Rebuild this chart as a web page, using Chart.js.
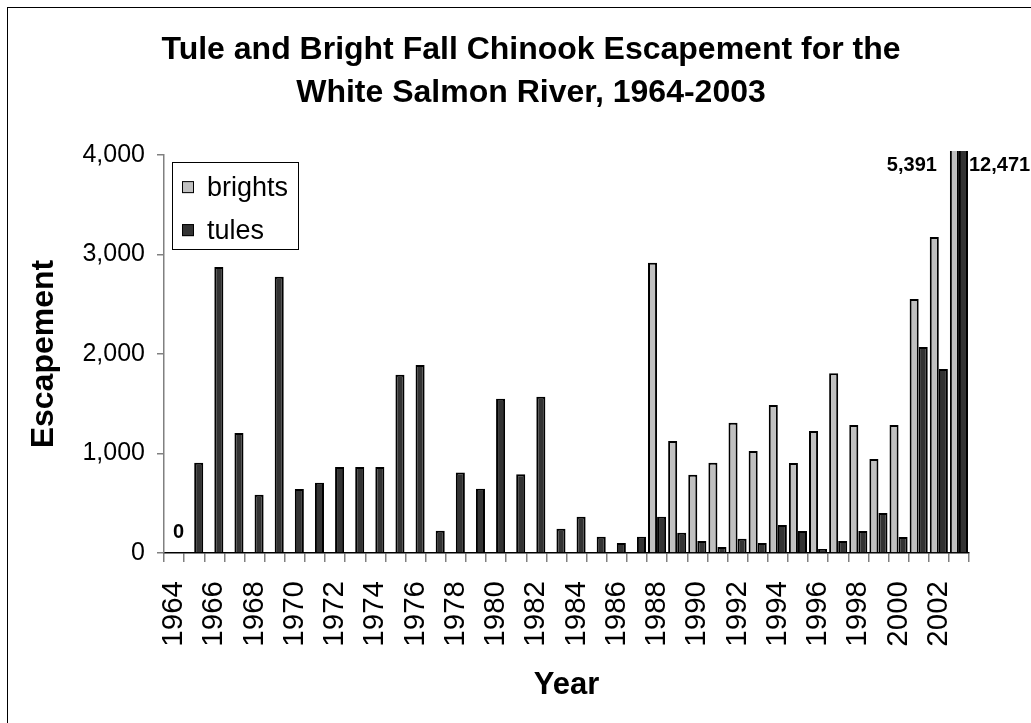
<!DOCTYPE html>
<html>
<head>
<meta charset="utf-8">
<title>White Salmon River fall chinook escapement</title>
<script src="https://cdn.jsdelivr.net/npm/chart.js@4.4.0/dist/chart.umd.min.js"></script>
<style>
  html, body { margin: 0; padding: 0; background: #fff; overflow: hidden; }
  #wrap { width: 1031px; height: 723px; }
</style>
</head>
<body>
<div id="wrap"><canvas id="escapement" width="1031" height="723"></canvas></div>
<script>
'use strict';

var years = [
  1964, 1965, 1966, 1967, 1968, 1969, 1970, 1971, 1972, 1973,
  1974, 1975, 1976, 1977, 1978, 1979, 1980, 1981, 1982, 1983,
  1984, 1985, 1986, 1987, 1988, 1989, 1990, 1991, 1992, 1993,
  1994, 1995, 1996, 1997, 1998, 1999, 2000, 2001, 2002, 2003
];

// no brights counted before 1988
var brights = [
  null, null, null, null, null, null, null, null, null, null,
  null, null, null, null, null, null, null, null, null, null,
  null, null, null, null, 2917, 1126, 787, 907, 1309, 1025,
  1487, 904, 1226, 1806, 1286, 945, 1286, 2553, 3176, 5391
];

var tules = [
  0, 907, 2874, 1206, 586, 2777, 643, 707, 864, 864,
  864, 1792, 1889, 224, 810, 646, 1551, 791, 1571, 244,
  365, 164, 100, 164, 365, 204, 120, 60, 144, 100,
  281, 221, 40, 120, 221, 402, 161, 2070, 1849, 12471
];

var yTicks = [0, 1000, 2000, 3000, 4000];

var FONT = "'Liberation Sans', Arial, Helvetica, sans-serif";

function fmt(v) {
  return Number(v).toLocaleString('en-US');
}

// thin frame round the whole chart, only left and top edges are in view
var framePlugin = {
  id: 'frame',
  beforeDraw: function(chart) {
    var ctx = chart.ctx;
    ctx.save();
    ctx.fillStyle = '#fff';
    ctx.fillRect(0, 0, chart.width, chart.height);
    ctx.strokeStyle = '#000';
    ctx.lineWidth = 1;
    ctx.strokeRect(7.5, 7.5, chart.width + 20, chart.height + 20);
    ctx.restore();
  }
};

// legend box sitting inside the plot, like the spreadsheet one
var boxLegend = {
  id: 'boxLegend',
  afterDraw: function(chart) {
    var ctx = chart.ctx;
    var area = chart.chartArea;
    var x = area.left + 8;
    var y = area.top + 7;
    var w = 126;
    var h = 87;
    ctx.save();
    ctx.fillStyle = '#fff';
    ctx.fillRect(x, y, w, h);
    ctx.strokeStyle = '#000';
    ctx.lineWidth = 1;
    ctx.strokeRect(Math.round(x) + 0.5, Math.round(y) + 0.5, w, h);
    ctx.font = '27px ' + FONT;
    ctx.textBaseline = 'middle';
    chart.data.datasets.forEach(function(ds, i) {
      var cy = y + 25 + i * 43;
      ctx.fillStyle = ds.backgroundColor;
      ctx.fillRect(x + 10, cy - 6, 12, 12);
      ctx.strokeStyle = '#000';
      ctx.strokeRect(x + 10.5, cy - 5.5, 11, 11);
      ctx.fillStyle = '#000';
      ctx.fillText(ds.label, x + 35, cy + 1);
    });
    ctx.restore();
  }
};

// a few data labels: the zero in 1964 and the two off-scale bars of 2003
var valueLabels = [
  { series: 1, index: 0, side: 'top' },
  { series: 0, index: 39, side: 'left' },
  { series: 1, index: 39, side: 'right' }
];

var labelPlugin = {
  id: 'valueLabels',
  afterDatasetsDraw: function(chart) {
    var ctx = chart.ctx;
    var area = chart.chartArea;
    ctx.save();
    ctx.font = 'bold 20px ' + FONT;
    ctx.fillStyle = '#000';
    ctx.textBaseline = 'middle';
    valueLabels.forEach(function(l) {
      var bar = chart.getDatasetMeta(l.series).data[l.index];
      var v = chart.data.datasets[l.series].data[l.index];
      var half = bar.width / 2;
      var top = Math.max(bar.y, area.top);
      if (l.side === 'top') {
        ctx.textAlign = 'center';
        ctx.fillText(fmt(v), bar.x, top - 21);
      } else if (l.side === 'left') {
        ctx.textAlign = 'right';
        ctx.fillText(fmt(v), bar.x - half - 13, top + 10);
      } else {
        ctx.textAlign = 'left';
        ctx.fillText(fmt(v), bar.x + half + 1, top + 10);
      }
    });
    ctx.restore();
  }
};

var canvas = document.getElementById('escapement').getContext('2d');

var chart = new Chart(canvas, {
  type: 'bar',
  data: {
    labels: years,
    datasets: [
      {
        label: 'brights',
        data: brights,
        backgroundColor: '#c0c0c0',
        borderColor: '#000',
        borderWidth: 2,
        clip: { left: false, top: 4, right: false, bottom: false }
      },
      {
        label: 'tules',
        data: tules,
        backgroundColor: '#333333',
        borderColor: '#000',
        borderWidth: 2,
        clip: { left: false, top: 4, right: false, bottom: false }
      }
    ]
  },
  options: {
    responsive: false,
    animation: false,
    events: [],
    layout: { padding: { left: 31, right: 0, top: 0, bottom: 0 } },
    datasets: {
      bar: { categoryPercentage: 0.9, barPercentage: 1.0 }
    },
    plugins: {
      legend: { display: false },
      tooltip: { enabled: false },
      title: {
        display: true,
        text: ['Tule and Bright Fall Chinook Escapement for the', 'White Salmon River, 1964-2003'],
        color: '#000',
        font: { family: FONT, size: 32, weight: 'bold', lineHeight: 1.33 },
        padding: { top: 29, bottom: 41 }
      }
    },
    scales: {
      x: {
        grid: {
          offset: true,
          drawOnChartArea: false,
          drawTicks: true,
          tickLength: 9,
          color: '#808080',
          lineWidth: 1.5
        },
        border: { color: '#000', width: 1.5 },
        ticks: {
          autoSkip: false,
          minRotation: 90,
          maxRotation: 90,
          padding: 19,
          color: '#000',
          font: { family: FONT, size: 29.5 },
          callback: function(val, i) {
            return i % 2 === 0 ? String(years[i]) : '';
          }
        },
        title: {
          display: true,
          text: 'Year',
          color: '#000',
          font: { family: FONT, size: 31, weight: 'bold', lineHeight: 1.2 },
          padding: { top: 0, bottom: 19 }
        },
        afterFit: function(scale) {
          scale.height = 170;
          scale.paddingRight = 62;
        }
      },
      y: {
        min: 0,
        max: 4000,
        afterBuildTicks: function(scale) {
          scale.ticks = yTicks.map(function(v) { return { value: v }; });
        },
        grid: {
          drawOnChartArea: false,
          drawTicks: true,
          tickLength: 7,
          color: '#808080',
          lineWidth: 1.5
        },
        border: { color: '#808080', width: 1.5 },
        ticks: {
          padding: 12,
          color: '#000',
          font: { family: FONT, size: 25 },
          callback: function(v) { return fmt(v); }
        },
        title: {
          display: true,
          text: 'Escapement',
          color: '#000',
          font: { family: FONT, size: 32, weight: 'bold', lineHeight: 0.8 },
          padding: { top: 0, bottom: 0 }
        },
        afterFit: function(scale) {
          scale.width = 133;
        }
      }
    }
  },
  plugins: [framePlugin, boxLegend, labelPlugin]
});
</script>
</body>
</html>
